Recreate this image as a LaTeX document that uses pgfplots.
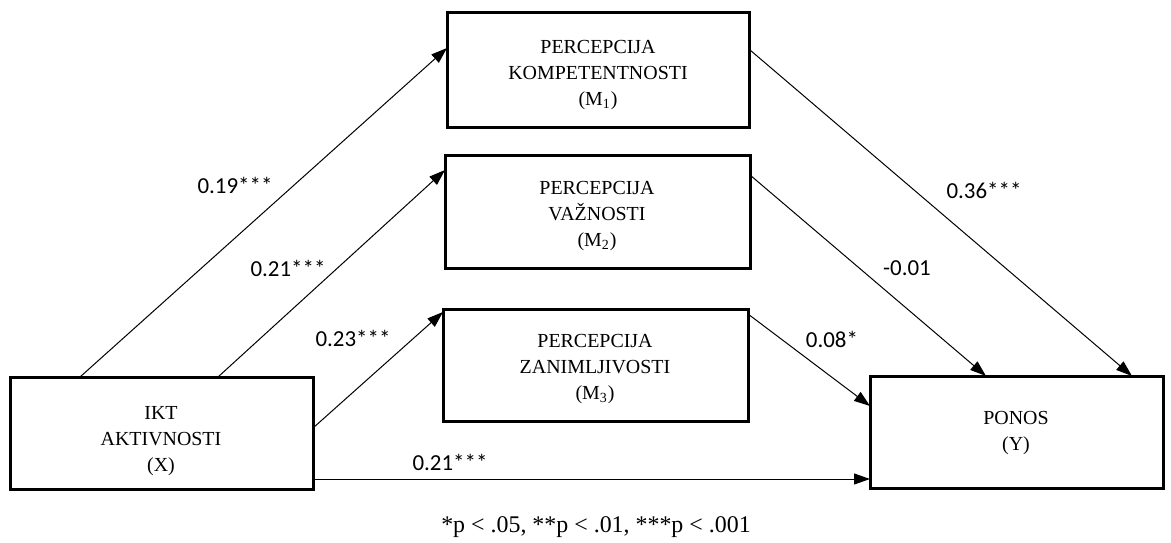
\documentclass[border=0pt]{standalone}
\usepackage{pgfplots}
\pgfplotsset{compat=1.18}
\usepackage{fontspec}
\setmainfont{Liberation Serif}
\newfontfamily\numfont{Carlito}
\usetikzlibrary{arrows.meta}
\begin{document}
\begin{tikzpicture}[
  box/.style={draw=black, line width=1.5bp},
  lab/.style={font=\numfont\fontsize{11.5}{13}\selectfont, inner sep=0pt},
  txt/.style={font=\fontsize{10}{13}\selectfont, align=center, inner sep=0pt},
  arr/.style={black, line width=0.5bp, -{Triangle[length=8bp,width=5.5bp]}}
]
\begin{axis}[
  width=585.5bp, height=271.5bp, scale only axis,
  xmin=0, xmax=1171, ymin=0, ymax=543, y dir=reverse,
  hide axis, clip=false
]
% invisible frame for the bounding box
\draw[draw=none] (axis cs:0,0) rectangle (axis cs:1171,543);
% boxes
\draw[box] (axis cs:10,377) rectangle (axis cs:313,489);
\draw[box] (axis cs:447,13) rectangle (axis cs:749,127);
\draw[box] (axis cs:445,155) rectangle (axis cs:750,268);
\draw[box] (axis cs:443,309) rectangle (axis cs:748,421);
\draw[box] (axis cs:870,376) rectangle (axis cs:1163,488);
% box texts
\node[txt] at (axis cs:161,441) {IKT\\AKTIVNOSTI\\(X)};
\node[txt] at (axis cs:598,75) {PERCEPCIJA\\KOMPETENTNOSTI\\(M\textsubscript{1})};
\node[txt] at (axis cs:597,216) {PERCEPCIJA\\VAŽNOSTI\\(M\textsubscript{2})};
\node[txt] at (axis cs:595,369) {PERCEPCIJA\\ZANIMLJIVOSTI\\(M\textsubscript{3})};
\node[txt] at (axis cs:1016,433) {PONOS\\(Y)};
% arrows
\addplot[arr] coordinates {(80,377) (447,48)};
\addplot[arr] coordinates {(218,377) (445,170)};
\addplot[arr] coordinates {(313,428) (443,312)};
\addplot[arr] coordinates {(313,479) (870,479)};
\addplot[arr] coordinates {(750,50) (1132,376)};
\addplot[arr] coordinates {(750,175) (986,376)};
\addplot[arr] coordinates {(748,314) (870,406)};
% coefficients
\node[lab] at (axis cs:235,185) {0.19***};
\node[lab] at (axis cs:288,268) {0.21***};
\node[lab] at (axis cs:353,338) {0.23***};
\node[lab] at (axis cs:984,190) {0.36***};
\node[lab] at (axis cs:907,268) {-0.01};
\node[lab] at (axis cs:832,339) {0.08*};
\node[lab] at (axis cs:450,462) {0.21***};
% footnote
\node[font=\fontsize{12}{14}\selectfont, inner sep=0pt] at (axis cs:596,527) {*p < .05, **p < .01, ***p < .001};
\end{axis}
\end{tikzpicture}
\end{document}
